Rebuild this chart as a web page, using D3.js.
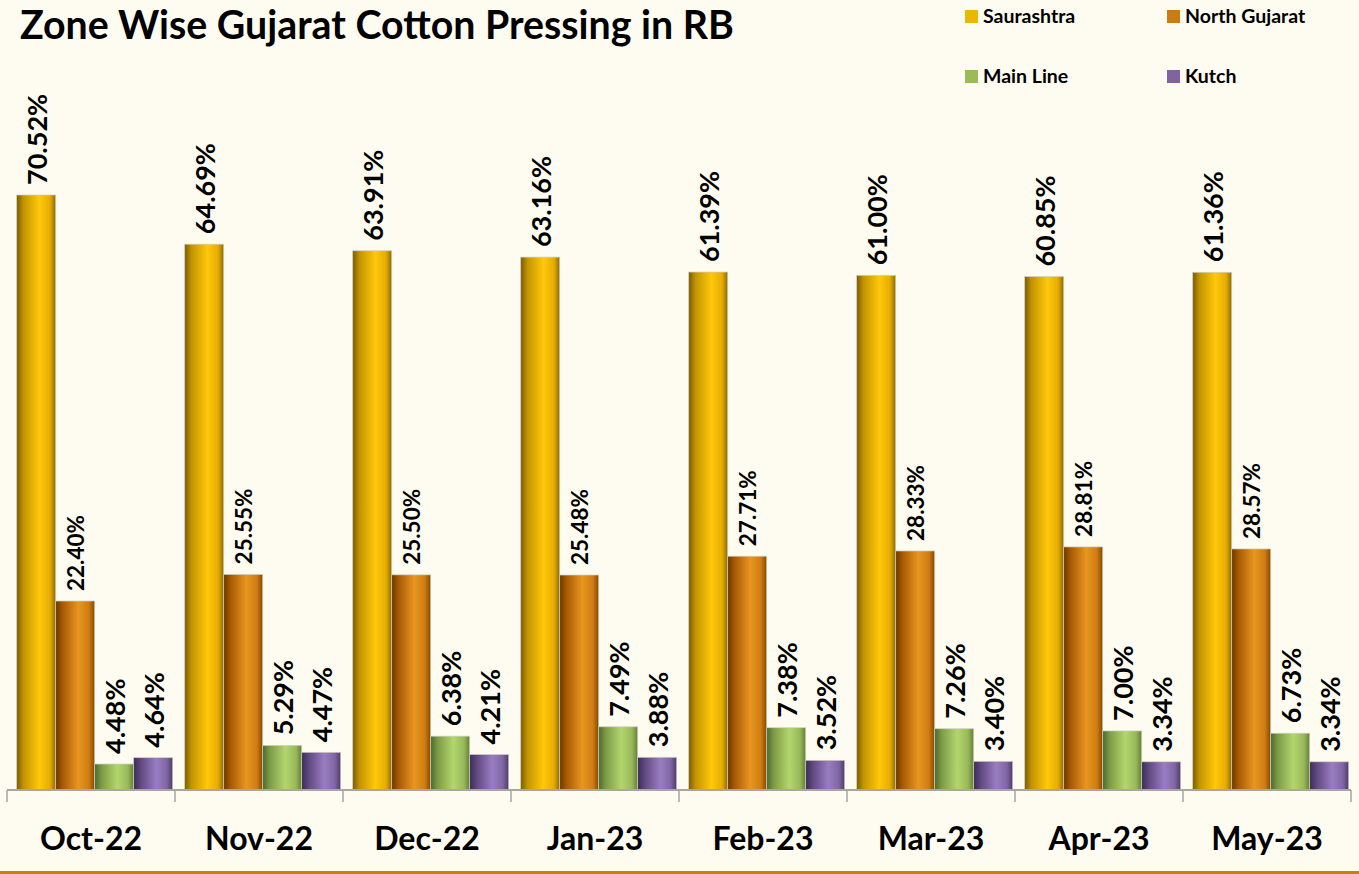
<!DOCTYPE html>
<html>
<head>
<meta charset="utf-8">
<script src="https://cdn.jsdelivr.net/npm/d3@7"></script>
<style>
  html,body{margin:0;padding:0;background:#fefcf1;}
  svg{display:block;font-family:Lato,"Open Sans",sans-serif;}
</style>
</head>
<body>
<svg id="chart"></svg>
<script>
// chart data
var months=["Oct-22","Nov-22","Dec-22","Jan-23","Feb-23","Mar-23","Apr-23","May-23"];
var zones=["Saurashtra","North Gujarat","Main Line","Kutch"];
// bar heights as drawn (Oct Main Line / Kutch bars are drawn shorter than their labels)
var saurashtra=[70.52,64.69,63.91,63.16,61.39,61.00,60.85,61.36];
var northGujarat=[22.40,25.55,25.50,25.48,27.71,28.33,28.81,28.57];
var mainLine=[3.08,5.29,6.38,7.49,7.38,7.26,7.00,6.73];
var kutch=[3.83,4.47,4.21,3.88,3.52,3.40,3.34,3.34];
// label texts as printed
var saurashtraLbl=["70.52%","64.69%","63.91%","63.16%","61.39%","61.00%","60.85%","61.36%"];
var northGujaratLbl=["22.40%","25.55%","25.50%","25.48%","27.71%","28.33%","28.81%","28.57%"];
var mainLineLbl=["4.48%","5.29%","6.38%","7.49%","7.38%","7.26%","7.00%","6.73%"];
var kutchLbl=["4.64%","4.47%","4.21%","3.88%","3.52%","3.40%","3.34%","3.34%"];
var titleText="Zone Wise Gujarat Cotton Pressing in RB";

var seriesVals=[saurashtra,northGujarat,mainLine,kutch];
var seriesLbl=[saurashtraLbl,northGujaratLbl,mainLineLbl,kutchLbl];
var legendCol=["#ebb700","#cc7a12","#9bbb59","#8064a2"];
var grads=[
  ["#7a5c00","#c39600","#ffc80c","#e6ad00","#8f6c00"],
  ["#6b3a00","#a85a04","#e8961f","#cf7c12","#834800"],
  ["#4d682a","#7d9b47","#b3d66d","#98b95a","#637f35"],
  ["#3d2c53","#604880","#9a7dc1","#8066a3","#4e3b66"]
];

var W=1359,H=874;
var svg=d3.select("#chart").attr("width",W).attr("height",H);

svg.append("rect").attr("width",W).attr("height",H).attr("fill","#fefcf1");

var defs=svg.append("defs");
grads.forEach(function(g,i){
  var lg=defs.append("linearGradient").attr("id","g"+i)
    .attr("x1","0%").attr("x2","100%").attr("y1","0%").attr("y2","0%");
  [0,0.18,0.58,0.85,1].forEach(function(o,j){
    lg.append("stop").attr("offset",o).attr("stop-color",g[j]);
  });
});

var x=d3.scaleBand().domain(months).range([7,1351]).padding(0);
var xs=d3.scaleBand().domain(zones).range([9.7,165.7]).padding(0);
var y=d3.scaleLinear().domain([0,80]).range([790,115]);

// bars
var data=[];
months.forEach(function(m,i){
  zones.forEach(function(z,k){
    data.push({m:m,z:z,k:k,v:seriesVals[k][i],t:seriesLbl[k][i]});
  });
});

var g=svg.append("g");
g.selectAll("rect.bar").data(data).enter().append("rect")
  .attr("class","bar")
  .attr("x",function(d){return x(d.m)+xs(d.z);})
  .attr("y",function(d){return y(d.v);})
  .attr("width",xs.bandwidth())
  .attr("height",function(d){return y(0)-y(d.v);})
  .attr("fill",function(d){return "url(#g"+d.k+")";})
  .attr("stroke","#cfcfc4").attr("stroke-width",0.7);

// value labels
g.selectAll("text.lbl").data(data).enter().append("text")
  .attr("class","lbl")
  .attr("transform",function(d){
    var cx=x(d.m)+xs(d.z)+xs.bandwidth()/2;
    var off=d.k==1?9:11;
    return "translate("+(cx+off)+","+(y(d.v)-10)+") rotate(-90)";
  })
  .attr("font-size",function(d){return d.k==1?"22.5px":"27px";})
  .attr("font-weight","bold")
  .attr("fill","#000")
  .text(function(d){return d.t;});

// x axis
var ax=svg.append("g").attr("transform","translate(0,790)");
ax.append("line").attr("x1",7).attr("x2",1351).attr("y1",0).attr("y2",0)
  .attr("stroke","#a6a6a6").attr("stroke-width",2);
var tickX=months.map(function(m){return x(m);}).concat([1351]);
ax.selectAll("line.tk").data(tickX).enter().append("line")
  .attr("class","tk")
  .attr("x1",function(d){return d;}).attr("x2",function(d){return d;})
  .attr("y1",0).attr("y2",12)
  .attr("stroke","#a6a6a6").attr("stroke-width",1.5);
ax.selectAll("text.cat").data(months).enter().append("text")
  .attr("class","cat")
  .attr("x",function(d){return x(d)+x.bandwidth()/2;})
  .attr("y",60)
  .attr("text-anchor","middle")
  .attr("font-size","32px").attr("font-weight","bold")
  .text(function(d){return d;});

// title
var t=svg.append("text").attr("x",20).attr("y",39)
  .attr("font-size","32px").attr("font-weight","bold").text(titleText);
var tl=t.node().getComputedTextLength();
t.attr("font-size",(32*713/tl).toFixed(1)+"px");

// legend
var legPos=[[965,10],[1167,10],[965,70],[1167,70]];
var leg=svg.selectAll("g.leg").data(zones).enter().append("g")
  .attr("class","leg")
  .attr("transform",function(d,i){return "translate("+legPos[i][0]+","+legPos[i][1]+")";});
leg.append("rect").attr("width",13).attr("height",13)
  .attr("fill",function(d,i){return legendCol[i];});
leg.append("text").attr("x",18).attr("y",13)
  .attr("font-size","19.5px").attr("font-weight","bold")
  .text(function(d){return d;});

// bottom border
svg.append("line").attr("x1",0).attr("x2",W).attr("y1",872.5).attr("y2",872.5)
  .attr("stroke","#c8800a").attr("stroke-width",3);
</script>
</body>
</html>
